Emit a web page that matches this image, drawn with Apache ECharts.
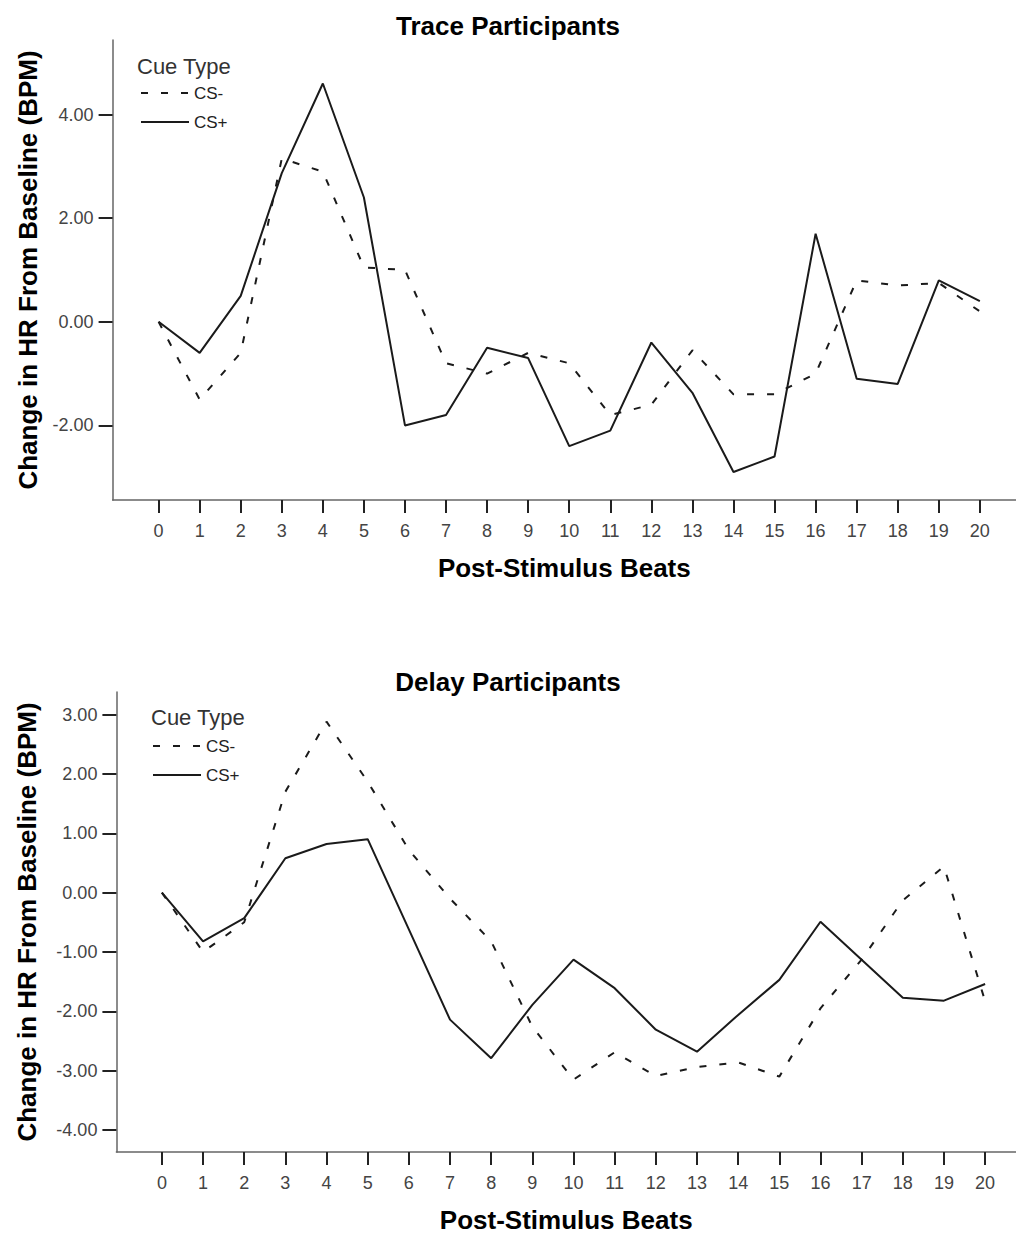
<!DOCTYPE html>
<html>
<head>
<meta charset="utf-8">
<script src="https://cdn.jsdelivr.net/npm/echarts@6/dist/echarts.min.js"></script>
<style>
html,body{margin:0;padding:0;background:#fff;}
#c{width:1016px;height:1234px;}
</style>
</head>
<body>
<div id="c"></div>
<script>
const beats = [0,1,2,3,4,5,6,7,8,9,10,11,12,13,14,15,16,17,18,19,20];
const traceYTicks = [-2, 0, 2, 4];
const delayYTicks = [-4, -3, -2, -1, 0, 1, 2, 3];
const traceCSminus = [0.0,-1.5,-0.6,3.15,2.9,1.05,1.0,-0.8,-1.0,-0.6,-0.8,-1.8,-1.6,-0.55,-1.4,-1.4,-1.0,0.8,0.7,0.75,0.2];
const traceCSplus  = [0.0,-0.6,0.5,2.87,4.6,2.4,-2.0,-1.8,-0.5,-0.7,-2.4,-2.1,-0.4,-1.37,-2.9,-2.6,1.7,-1.1,-1.2,0.8,0.4];
const delayCSminus = [0.0,-1.0,-0.5,1.7,2.88,1.87,0.72,-0.1,-0.82,-2.26,-3.15,-2.69,-3.09,-2.94,-2.86,-3.1,-1.95,-1.13,-0.13,0.44,-1.83];
const delayCSplus  = [0.0,-0.82,-0.43,0.58,0.82,0.9,-0.62,-2.14,-2.79,-1.89,-1.13,-1.61,-2.31,-2.68,-2.06,-1.47,-0.49,-1.13,-1.77,-1.82,-1.54];
const titles = ['Trace Participants', 'Delay Participants'];
const xName = 'Post-Stimulus Beats';
const yName = 'Change in HR From Baseline (BPM)';
const legendTitle = 'Cue Type';
const seriesNames = ['CS-', 'CS+'];

const FONT = '"Liberation Sans", Arial, sans-serif';
const pair = arr => arr.map((v, i) => [beats[i], v]);

function xAxis(gi, min, max) {
  return {
    type: 'value', gridIndex: gi, min: min, max: max,
    name: xName, nameLocation: 'middle', nameGap: 55,
    nameTextStyle: {fontFamily: FONT, fontSize: 26, fontWeight: 'bold', color: '#000'},
    axisLine: {show: true, onZero: false, lineStyle: {color: '#666', width: 1.5}},
    axisTick: {show: true, length: 13, customValues: beats, lineStyle: {color: '#222', width: 2}},
    axisLabel: {customValues: beats, margin: 22, fontFamily: FONT, fontSize: 18, color: '#444'},
    splitLine: {show: false}
  };
}
function yAxis(gi, min, max, ticks, gap) {
  return {
    type: 'value', gridIndex: gi, min: min, max: max,
    name: yName, nameLocation: 'middle', nameGap: gap,
    nameTextStyle: {fontFamily: FONT, fontSize: 26, fontWeight: 'bold', color: '#000'},
    axisLine: {show: true, onZero: false, lineStyle: {color: '#666', width: 1.5}},
    axisTick: {show: true, length: 14, customValues: ticks, lineStyle: {color: '#222', width: 2}},
    axisLabel: {customValues: ticks, margin: 19, fontFamily: FONT, fontSize: 18, color: '#444',
      formatter: v => v.toFixed(2)},
    splitLine: {show: false}
  };
}
function line(name, data, xi, dashed) {
  return {
    type: 'line', name: name, xAxisIndex: xi, yAxisIndex: xi, data: pair(data),
    showSymbol: false, symbol: 'none', silent: true, animation: false,
    lineStyle: {color: '#1a1a1a', width: 2, type: dashed ? [7, 13] : 'solid'},
    itemStyle: {color: '#1a1a1a'}
  };
}
function legend(left, top) {
  return {
    orient: 'vertical', left: left, top: top, padding: 0,
    itemWidth: 48, itemHeight: 18, itemGap: 11,
    data: seriesNames, selectedMode: false,
    itemStyle: {color: 'rgba(0,0,0,0)', opacity: 0, borderWidth: 0},
    textStyle: {fontFamily: FONT, fontSize: 17, color: '#222', lineHeight: 18}
  };
}

const chart = echarts.init(document.getElementById('c'), null, {renderer: 'svg'});
chart.setOption({
  backgroundColor: '#fff',
  animation: false,
  title: [
    {text: titles[0], left: 'center', top: 8, textStyle: {fontFamily: FONT, fontSize: 26, fontWeight: 'bold', color: '#000'}},
    {text: titles[1], left: 'center', top: 664, textStyle: {fontFamily: FONT, fontSize: 26, fontWeight: 'bold', color: '#000'}}
  ],
  graphic: [
    {type: 'text', left: 137, top: 55, style: {text: legendTitle, font: '22px ' + FONT, fill: '#333'}},
    {type: 'text', left: 151, top: 706, style: {text: legendTitle, font: '22px ' + FONT, fill: '#333'}}
  ],
  legend: [legend(140, 84), legend(152, 737)],
  grid: [
    {left: 112.6, top: 40, right: 0, height: 460, containLabel: false},
    {left: 116.4, top: 692, right: 0, height: 460, containLabel: false}
  ],
  xAxis: [xAxis(0, -1.12, 20.88), xAxis(1, -1.105, 20.75)],
  yAxis: [yAxis(0, -3.44, 5.44, traceYTicks, 72), yAxis(1, -4.37, 3.38, delayYTicks, 76)],
  series: [
    line(seriesNames[0], traceCSminus, 0, true),
    line(seriesNames[1], traceCSplus, 0, false),
    line(seriesNames[0], delayCSminus, 1, true),
    line(seriesNames[1], delayCSplus, 1, false)
  ]
});
</script>
</body>
</html>
